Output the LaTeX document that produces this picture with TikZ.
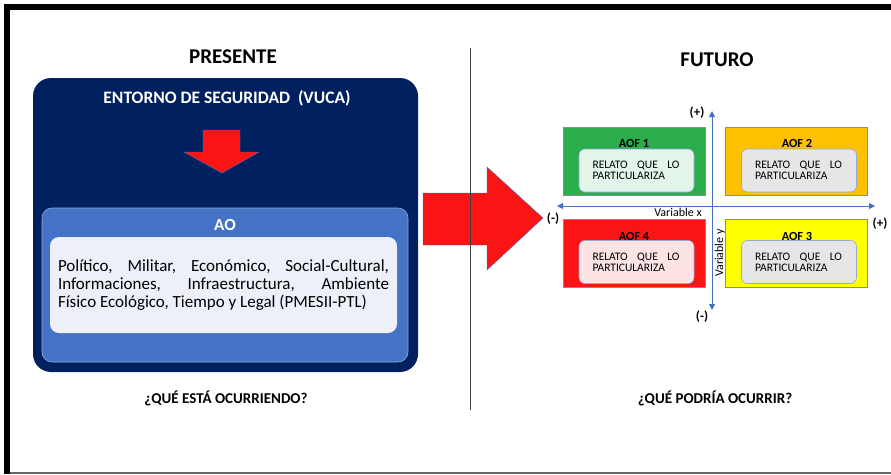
\documentclass[tikz,border=0pt]{standalone}
\usepackage{fontspec}
\setmainfont{Carlito}
\usetikzlibrary{arrows.meta,positioning}
\definecolor{mnavy}{HTML}{002060}
\definecolor{mblue}{HTML}{4472C4}
\definecolor{mlblue}{HTML}{8FAADC}
\definecolor{mpale}{HTML}{EDF0F8}
\definecolor{mred}{HTML}{FA1414}
\definecolor{mgreen}{HTML}{2AAD4A}
\definecolor{mgold}{HTML}{FFC000}
\definecolor{myellow}{HTML}{FFFF00}
\definecolor{mmint}{HTML}{E3F5EA}
\definecolor{mpink}{HTML}{FDE3E3}
\definecolor{mgray}{HTML}{E7E6E6}
\tikzstyle{l1}=[line width=0.6]
\tikzstyle{head}=[font=\bfseries\fontsize{21}{24}\selectfont]
\tikzstyle{ask}=[font=\bfseries\fontsize{15}{18}\selectfont]
\tikzstyle{quad}=[draw=black!45, l1, minimum width=142pt, minimum height=68pt, inner sep=0pt]
\tikzstyle{story}=[draw=mlblue, l1, rounded corners=6pt, text width=88pt, inner xsep=13.5pt, minimum height=43pt, align=left, font=\fontsize{11.5}{11}\selectfont]
\tikzstyle{aof}=[font=\bfseries\fontsize{12.4}{14}\selectfont]
\tikzstyle{sign}=[font=\bfseries\fontsize{13}{15}\selectfont, inner sep=1pt]
\tikzstyle{axis}=[mblue, line width=1, {Triangle[length=6pt,width=6pt]}-{Triangle[length=6pt,width=6pt]}]
\tikzstyle{blockarrow}=[fill=mred, draw=mblue, line width=0.4]
\newcommand{\relato}{\makebox[87pt][l]{RELATO\hfill QUE\hfill LO}\\PARTICULARIZA}

\begin{document}
\begin{tikzpicture}[x=1pt, y=-1pt]
    \useasboundingbox (0,0) rectangle (891,474);
    % frame
    \fill (4,4) rectangle (891,10);
    \fill (4,4) rectangle (10,474);
    \draw[black!60, line width=1.5] (10,473) -- (891,473);

    \node[head] (presente) at (233,57) {PRESENTE};
    \node[head] (futuro) at (717,60) {FUTURO};

    % presente
    \node[fill=mnavy, rounded corners=18pt, minimum width=385pt, minimum height=294pt] (entorno) at (225.5,225) {};
    \node[white, font=\bfseries\fontsize{17.5}{20}\selectfont] (vuca) at (227,98) {ENTORNO DE SEGURIDAD\ \ (VUCA)};
    \filldraw[blockarrow] (203,130) -- (240,130) -- (240,152) -- (259,152) -- (222,173) -- (184,152) -- (203,152) -- cycle;
    \node[fill=mblue, draw=mlblue, l1, rounded corners=10pt, minimum width=366pt, minimum height=154pt] (ao) at (225,285) {};
    \node[white, font=\bfseries\fontsize{17}{20}\selectfont] (aolabel) at (225,225) {AO};
    \node[fill=mpale, rounded corners=9pt, minimum width=347pt, minimum height=96pt, text width=331pt, align=justify,
          font=\fontsize{17}{18.3}\selectfont] (pmesii) at (223.5,285)
        {Político, Militar, Económico, Social-Cultural,\linebreak Informaciones, Infraestructura, Ambiente\linebreak Físico Ecológico, Tiempo y Legal (PMESII-PTL)};
    \node[ask] (q1) at (226,398) {¿QUÉ ESTÁ OCURRIENDO?};

    % paso al futuro
    \filldraw[blockarrow] (423,193) -- (487,193) -- (487,167) -- (543,218) -- (487,270) -- (487,245) -- (423,245) -- cycle;
    \coordinate (divtop) at (470,48);
    \coordinate (divbot) at (470,410);
    \draw[black!75, l1] (divtop) -- (divbot);

    % futuro
    \node[quad, fill=mgreen] (aof1) at (634,161) {};
    \node[quad, fill=mgold] (aof2) at (796,161) {};
    \node[quad, fill=mred] (aof4) at (634,253) {};
    \node[quad, fill=myellow] (aof3) at (796,253) {};
    \node[aof] at (634,143) (t1) {AOF 1};
    \node[aof] at (797,143) (t2) {AOF 2};
    \node[aof] at (634,236) (t4) {AOF 4};
    \node[aof] at (797,236) (t3) {AOF 3};
    \node[story, fill=mmint] at (636.5,170.5) (s1) {\relato};
    \node[story, fill=mgray] at (799,170.5) (s2) {\relato};
    \node[story, fill=mpink] at (636.5,262) (s4) {\relato};
    \node[story, fill=mgray] at (799,262) (s3) {\relato};

    \coordinate (xl) at (557,206);
    \coordinate (xr) at (875,206);
    \coordinate (yt) at (712,111);
    \coordinate (yb) at (712,310);
    \draw[axis] (xl) -- (xr);
    \draw[axis] (yb) -- (yt);
    \node[font=\fontsize{12}{14}\selectfont, inner sep=1pt] at (678,212) (vx) {Variable x};
    \node[font=\fontsize{12}{14}\selectfont, inner sep=1pt, rotate=90] at (720,253) (vy) {Variable y};
    \node[sign] at (697,113) (ytop) {(+)};
    \node[sign] at (702,317) (ybot) {(-)};
    \node[sign] at (553,219) (xleft) {(-)};
    \node[sign] at (880,224) (xright) {(+)};
    \node[ask] (q2) at (715,398) {¿QUÉ PODRÍA OCURRIR?};
\end{tikzpicture}
\end{document}
